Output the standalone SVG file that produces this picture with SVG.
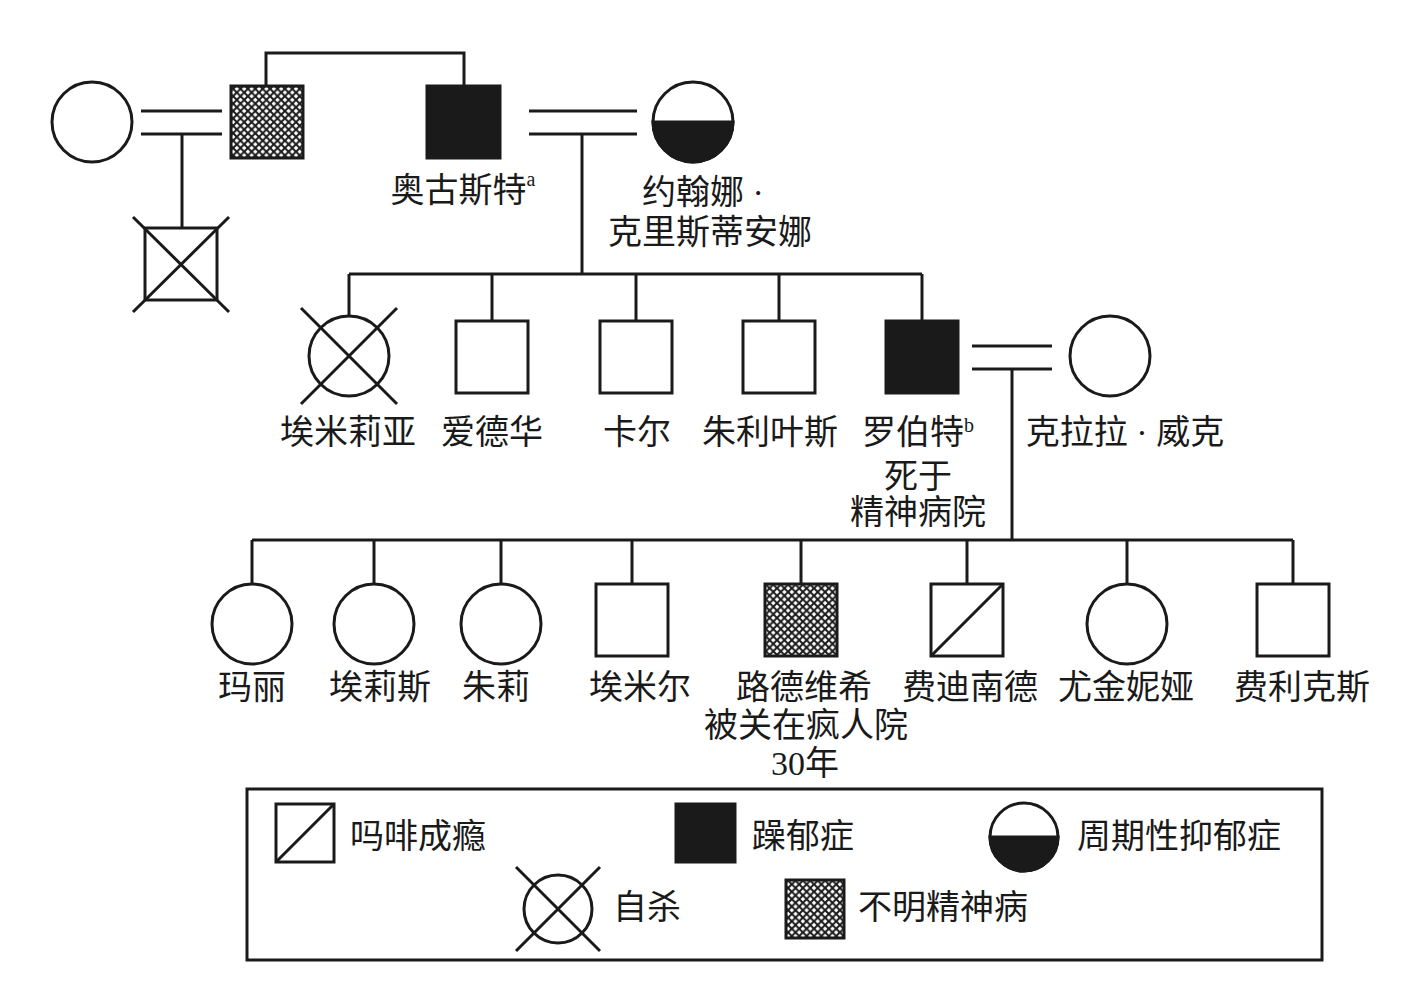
<svg xmlns="http://www.w3.org/2000/svg" width="1405" height="1008" viewBox="0 0 1405 1008">
<style>
.ln{fill:none;stroke:#1a1a1a;stroke-width:3}
.sh{fill:#fff;stroke:#1a1a1a;stroke-width:3}
.blk{fill:#1a1a1a;stroke:#1a1a1a;stroke-width:3}
.hat{fill:url(#hatch);stroke:#1a1a1a;stroke-width:3}
.t{font-family:"Liberation Serif","Noto Sans CJK SC",serif;font-size:34px;fill:#1a1a1a;text-anchor:middle}
.tl{font-family:"Liberation Serif","Noto Sans CJK SC",serif;font-size:34px;fill:#1a1a1a}
.sup{font-size:20px}
</style>
<defs>
<pattern id="hatch" patternUnits="userSpaceOnUse" width="7.4" height="7.4">
<rect width="7.4" height="7.4" fill="#1a1a1a"/>
<path d="M3.7,1.4 L6,3.7 L3.7,6 L1.4,3.7 Z M0,-2.3 L2.3,0 L0,2.3 L-2.3,0 Z M7.4,-2.3 L9.7,0 L7.4,2.3 L5.1,0 Z M0,5.1 L2.3,7.4 L0,9.7 L-2.3,7.4 Z M7.4,5.1 L9.7,7.4 L7.4,9.7 L5.1,7.4 Z" fill="#fff"/>
</pattern>
</defs>
<rect width="1405" height="1008" fill="#fff"/>

<g id="connectors">
<path class="ln" d="M266,86 V53 H464 V85"/>
<path class="ln" d="M141,111 H222 M141,134 H222"/>
<path class="ln" d="M182,134 V228"/>
<path class="ln" d="M529,111 H637 M529,134 H637"/>
<path class="ln" d="M582,134 V274"/>
<path class="ln" d="M349,274 H922 M349,274 V316 M492,274 V321 M636,274 V321 M779,274 V321 M922,274 V321"/>
<path class="ln" d="M972,346 H1052 M972,369 H1052"/>
<path class="ln" d="M1012,369 V540"/>
<path class="ln" d="M252,540 H1293 M252,540 V584 M374,540 V584 M501,540 V584 M632,540 V584 M801,540 V584 M967,540 V584 M1127,540 V584 M1293,540 V584"/>
</g>

<g id="n-wife1"><circle class="sh" cx="92" cy="122" r="40"/></g>
<g id="n-hatched-brother"><rect class="hat" x="231" y="86" width="72" height="72"/></g>
<g id="n-crossed-son"><rect class="sh" x="145" y="228" width="72" height="72"/><path class="ln" d="M133,217 L229,312 M229,217 L133,312"/></g>
<g id="n-august"><rect class="blk" x="427" y="86" width="73" height="72"/>
<text class="t" x="463" y="202">奥古斯特<tspan class="sup" dy="-16">a</tspan></text></g>
<g id="n-johanna"><circle class="sh" cx="693" cy="122" r="40"/><path class="blk" d="M653,122 A40,40 0 0 0 733,122 Z"/>
<text class="t" x="703" y="204">约翰娜 ·</text><text class="t" x="710" y="244">克里斯蒂安娜</text></g>

<g id="n-emilia"><circle class="sh" cx="349" cy="356" r="40"/><path class="ln" d="M301,308 L397,404 M397,308 L301,404"/>
<text class="t" x="348" y="444">埃米莉亚</text></g>
<g id="n-eduard"><rect class="sh" x="456" y="321" width="72" height="72"/><text class="t" x="492" y="444">爱德华</text></g>
<g id="n-carl"><rect class="sh" x="600" y="321" width="72" height="72"/><text class="t" x="637" y="444">卡尔</text></g>
<g id="n-julius"><rect class="sh" x="743" y="321" width="72" height="72"/><text class="t" x="770" y="444">朱利叶斯</text></g>
<g id="n-robert"><rect class="blk" x="886" y="321" width="72" height="72"/>
<text class="t" x="918" y="444">罗伯特<tspan class="sup" dy="-12">b</tspan></text>
<text class="t" x="918" y="488">死于</text><text class="t" x="918" y="524">精神病院</text></g>
<g id="n-clara"><circle class="sh" cx="1110" cy="356" r="40"/><text class="t" x="1125" y="444">克拉拉 · 威克</text></g>

<g id="n-marie"><circle class="sh" cx="252" cy="624" r="40"/><text class="t" x="252" y="699">玛丽</text></g>
<g id="n-elise"><circle class="sh" cx="374" cy="624" r="40"/><text class="t" x="380" y="699">埃莉斯</text></g>
<g id="n-julie"><circle class="sh" cx="501" cy="624" r="40"/><text class="t" x="496" y="699">朱莉</text></g>
<g id="n-emil"><rect class="sh" x="596" y="584" width="72" height="72"/><text class="t" x="640" y="699">埃米尔</text></g>
<g id="n-ludwig"><rect class="hat" x="765" y="584" width="72" height="72"/>
<text class="t" x="804" y="699">路德维希</text><text class="t" x="806" y="737">被关在疯人院</text><text class="t" x="805" y="775">30年</text></g>
<g id="n-ferdinand"><rect class="sh" x="931" y="584" width="72" height="72"/><path class="ln" d="M931,656 L1003,584"/><text class="t" x="970" y="699">费迪南德</text></g>
<g id="n-eugenie"><circle class="sh" cx="1127" cy="624" r="40"/><text class="t" x="1126" y="699">尤金妮娅</text></g>
<g id="n-felix"><rect class="sh" x="1257" y="584" width="72" height="72"/><text class="t" x="1302" y="699">费利克斯</text></g>

<g id="legend">
<rect class="sh" x="247" y="789" width="1075" height="171"/>
<rect class="sh" x="276" y="804" width="58" height="58"/><path class="ln" d="M276,862 L334,804"/>
<text class="tl" x="350" y="848">吗啡成瘾</text>
<rect class="blk" x="676" y="804" width="59" height="58"/>
<text class="tl" x="752" y="848">躁郁症</text>
<circle class="sh" cx="1024" cy="837" r="34"/><path class="blk" d="M990,837 A34,34 0 0 0 1058,837 Z"/>
<text class="tl" x="1077" y="848">周期性抑郁症</text>
<circle class="sh" cx="558" cy="909" r="34"/><path class="ln" d="M516,867 L600,951 M600,867 L516,951"/>
<text class="tl" x="613" y="919">自杀</text>
<rect class="hat" x="786" y="880" width="58" height="58"/>
<text class="tl" x="858" y="919">不明精神病</text>
</g>
</svg>
